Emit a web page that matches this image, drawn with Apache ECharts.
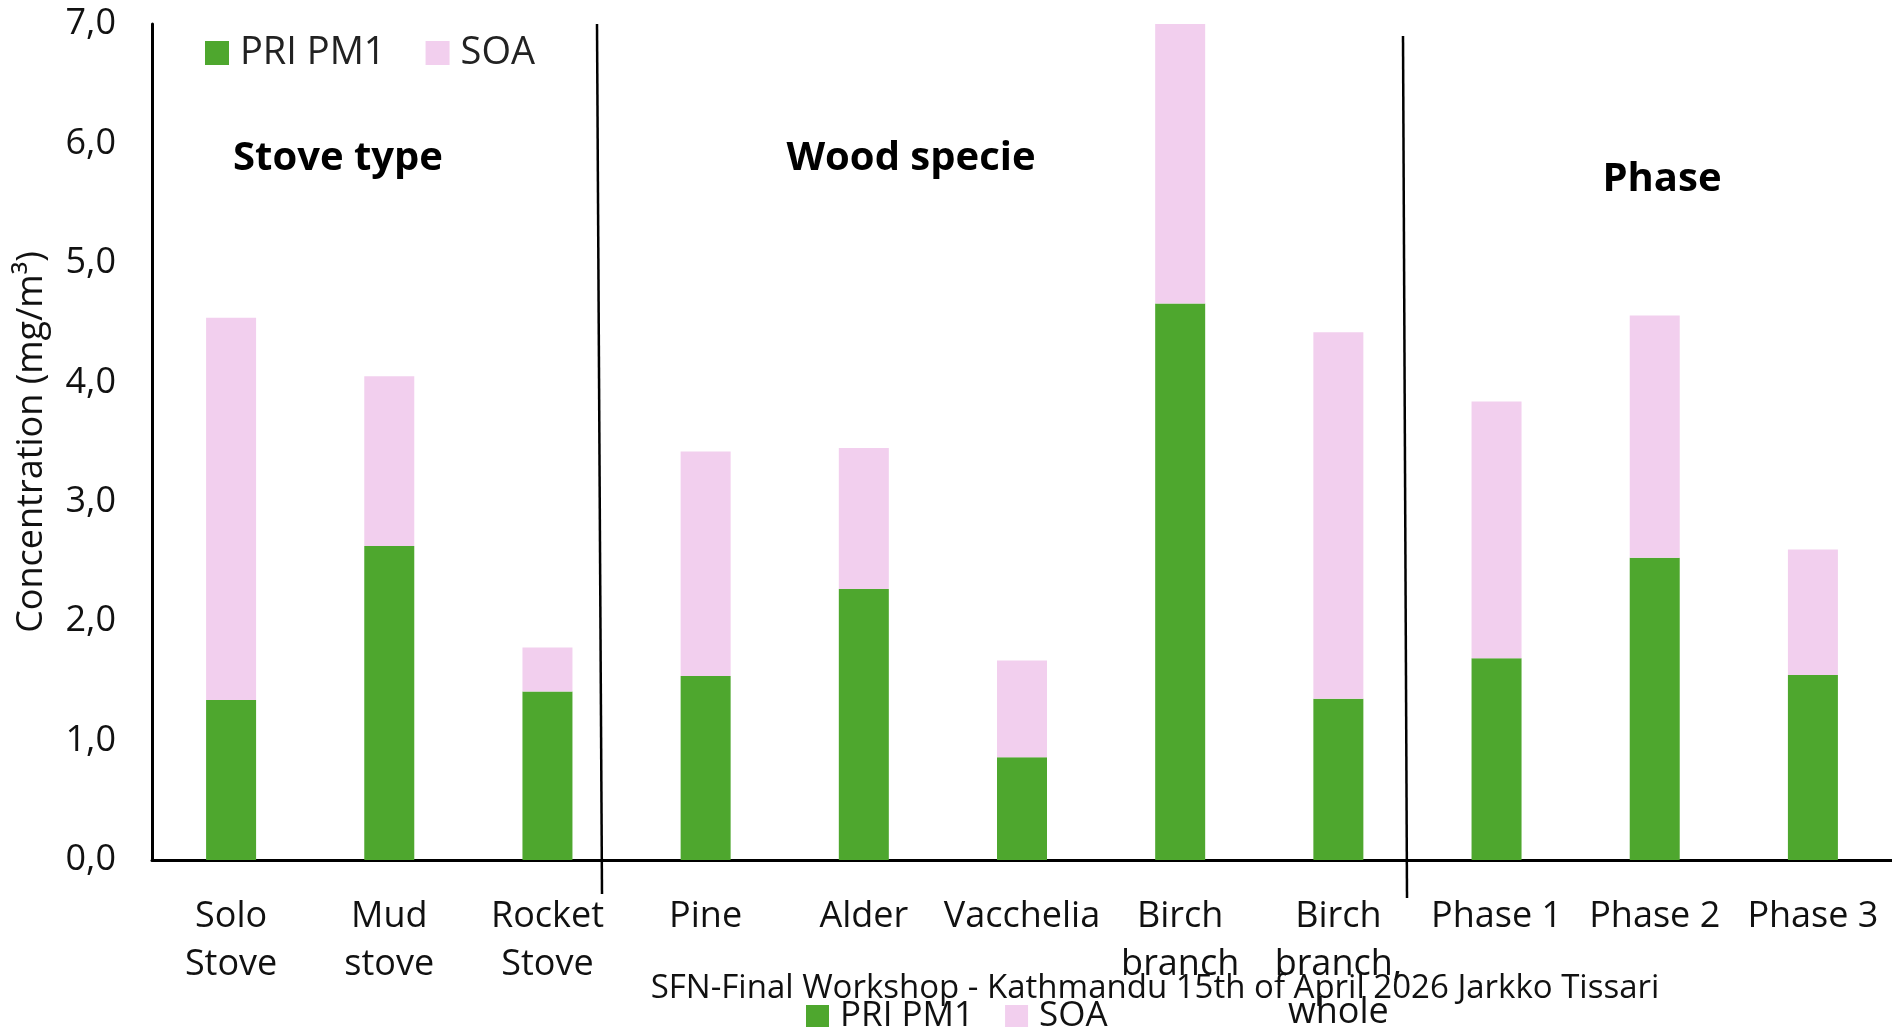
<!DOCTYPE html>
<html>
<head>
<meta charset="utf-8">
<script src="https://cdn.jsdelivr.net/npm/echarts@6/dist/echarts.min.js"></script>
<style>
html,body{margin:0;padding:0;background:#fff;}
#chart{width:1892px;height:1027px;}
</style>
</head>
<body>
<div id="chart"></div>
<script>
const categories = ['Solo\nStove','Mud\nstove','Rocket\nStove','Pine','Alder','Vacchelia','Birch\nbranch','Birch\nbranch,\nwhole','Phase 1','Phase 2','Phase 3'];
const priPM1 = [1.34, 2.63, 1.41, 1.54, 2.27, 0.86, 4.66, 1.35, 1.69, 2.53, 1.55];
const soa    = [3.20, 1.42, 0.37, 1.88, 1.18, 0.81, 2.34, 3.07, 2.15, 2.03, 1.05];
const yTicks = { min: 0, max: 7, interval: 1 };
const seriesNames = ['PRI PM1', 'SOA'];
const sectionTitles = ['Stove type', 'Wood specie', 'Phase'];
const footer = 'SFN-Final Workshop - Kathmandu 15th of April 2026 Jarkko Tissari';

const GREEN = '#4ea72e', PINK = '#f2cfee';
const FONT = '"Open Sans", "Noto Sans", sans-serif';

const chart = echarts.init(document.getElementById('chart'));
chart.setOption({
  animation: false,
  backgroundColor: '#fff',
  grid: { left: 152, right: 0, top: 24, bottom: 167, containLabel: false, outerBoundsMode: 'none' },
  legend: [{
    data: seriesNames, left: 205, top: 34, padding: 0, itemWidth: 24, itemHeight: 24, itemGap: 40,
    icon: 'rect', textStyle: { fontFamily: FONT, fontSize: 38, color: '#222', padding: [0, 0, 0, 6] }
  },{
    data: seriesNames, left: 806, top: 999, padding: 0, itemWidth: 23, itemHeight: 23, itemGap: 31,
    icon: 'rect', textStyle: { fontFamily: FONT, fontSize: 35, color: '#111', padding: [0, 0, 0, 6] }
  }],
  xAxis: {
    type: 'category', data: categories,
    axisLine: { lineStyle: { color: '#000', width: 3 } },
    axisTick: { show: false },
    axisLabel: { fontFamily: FONT, fontSize: 36, color: '#111', lineHeight: 48, margin: 33, interval: 0 }
  },
  yAxis: {
    type: 'value', min: yTicks.min, max: yTicks.max, interval: yTicks.interval,
    name: 'Concentration (mg/m³)', nameLocation: 'middle', nameGap: 102, nameRotate: 90,
    nameTextStyle: { fontFamily: FONT, fontSize: 36, color: '#111' },
    axisLine: { show: true, lineStyle: { color: '#000', width: 3 } },
    axisTick: { show: false },
    splitLine: { show: false },
    axisLabel: { fontFamily: FONT, fontSize: 36, color: '#111', margin: 36,
      formatter: v => v.toFixed(1).replace('.', ',') }
  },
  series: [
    { name: seriesNames[0], type: 'bar', stack: 'total', data: priPM1, barWidth: 50,
      itemStyle: { color: GREEN } },
    { name: seriesNames[1], type: 'bar', stack: 'total', data: soa, barWidth: 50,
      itemStyle: { color: PINK } }
  ],
  graphic: [
    { type: 'line', shape: { x1: 597, y1: 24, x2: 602, y2: 894 }, style: { stroke: '#000', lineWidth: 2.5 }, z: 10 },
    { type: 'line', shape: { x1: 1403, y1: 36, x2: 1407, y2: 898 }, style: { stroke: '#000', lineWidth: 2.5 }, z: 10 },
    { type: 'text', x: 338, y: 159, style: { text: sectionTitles[0], font: 'bold 40px ' + FONT, fill: '#000', align: 'center', verticalAlign: 'middle' } },
    { type: 'text', x: 911, y: 159, style: { text: sectionTitles[1], font: 'bold 40px ' + FONT, fill: '#000', align: 'center', verticalAlign: 'middle' } },
    { type: 'text', x: 1662, y: 180, style: { text: sectionTitles[2], font: 'bold 40px ' + FONT, fill: '#000', align: 'center', verticalAlign: 'middle' } },
    { type: 'text', x: 1155, y: 989, style: { text: footer, font: '33px ' + FONT, fill: '#111', align: 'center', verticalAlign: 'middle' }, z: 20 }
  ]
});
</script>
</body>
</html>
